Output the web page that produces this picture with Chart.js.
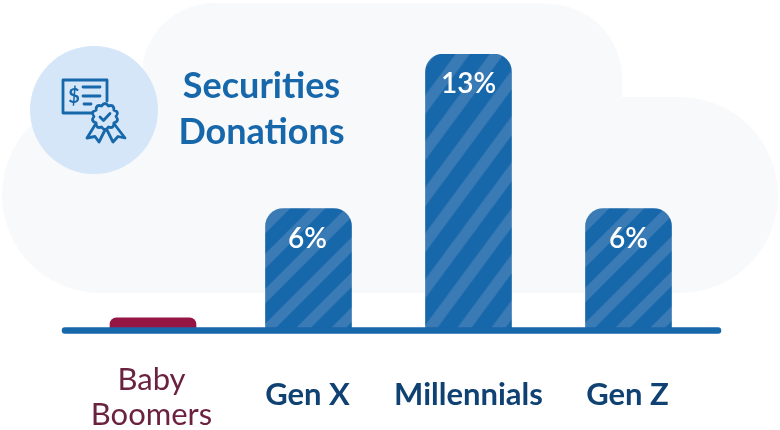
<!DOCTYPE html>
<html>
<head>
<meta charset="utf-8">
<style>
    html, body { margin: 0; padding: 0; background: #fff; }
    #wrap { width: 780px; height: 430px; }
</style>
<script src="https://cdn.jsdelivr.net/npm/chart.js@4/dist/chart.umd.min.js"></script>
</head>
<body>
<div id="wrap"><canvas id="donations"></canvas></div>
<script>
// Chart data
const generations = [["Baby", "Boomers"], "Gen X", "Millennials", "Gen Z"];
const securitiesShare = [0.62, 5.75, 13, 5.75];
const valueLabels = ["", "6%", "13%", "6%"];
const titleLines = ["Securities", "Donations"];

const BLUE = "#1767ab";
const STRIPE = "#3a7bb5";

// Diagonal stripes for the bars
function stripes(w, h, dx) {
    const tile = document.createElement("canvas");
    tile.width = w;
    tile.height = h;
    const c = tile.getContext("2d");
    c.fillStyle = BLUE;
    c.fillRect(0, 0, w, h);
    c.fillStyle = STRIPE;
    const band = w * 0.42;
    [-w, 0, w].forEach((o) => {
        c.beginPath();
        c.moveTo(o, h);
        c.lineTo(o + w, 0);
        c.lineTo(o + w + band, 0);
        c.lineTo(o + band, h);
        c.closePath();
        c.fill();
    });
    const pattern = c.createPattern(tile, "repeat");
    pattern.setTransform(new DOMMatrix().translate(dx, 0));
    return pattern;
}

function drawCloud(ctx) {
    ctx.fillStyle = "#f8f9fb";
    ctx.beginPath();
    ctx.arc(100, 195, 98, 0, Math.PI * 2);
    ctx.arc(680, 195, 98, 0, Math.PI * 2);
    ctx.fill();
    ctx.beginPath();
    ctx.arc(214, 75, 72, 0, Math.PI * 2);
    ctx.arc(548, 78, 74, 0, Math.PI * 2);
    ctx.fill();
    ctx.fillRect(100, 97, 580, 196);
    ctx.fillRect(214, 3.5, 334, 100);
    ctx.fillRect(142, 75, 480, 30);
}

function poly(ctx, pts, close) {
    ctx.beginPath();
    pts.forEach((p, i) => (i ? ctx.lineTo(p[0], p[1]) : ctx.moveTo(p[0], p[1])));
    if (close) ctx.closePath();
    ctx.stroke();
}

function drawIcon(ctx) {
    ctx.fillStyle = "#d4e6f7";
    ctx.beginPath();
    ctx.arc(94, 110, 64, 0, Math.PI * 2);
    ctx.fill();

    ctx.strokeStyle = BLUE;
    ctx.lineWidth = 2.8;
    ctx.lineJoin = "round";
    ctx.lineCap = "round";
    // certificate
    poly(ctx, [[92, 113], [63, 113], [63, 80], [107, 80], [107, 101]]);
    poly(ctx, [[83, 87], [100, 87]]);
    poly(ctx, [[83, 96], [100, 96]]);
    poly(ctx, [[84, 104], [91, 104]]);
    ctx.fillStyle = BLUE;
    ctx.font = "700 20px Lato";
    ctx.textAlign = "center";
    ctx.textBaseline = "middle";
    ctx.fillText("$", 74, 97);

    // ribbons
    poly(ctx, [[95, 125], [87, 138], [95, 136.5], [99, 142], [105, 130]]);
    poly(ctx, [[115, 125], [125, 138], [118, 136.5], [113, 142], [107, 130]]);

    // rosette
    const cx = 105, cy = 116.5, points = 10;
    ctx.beginPath();
    for (let i = 0; i < points; i++) {
        const a0 = (i / points) * Math.PI * 2;
        const a1 = ((i + 0.5) / points) * Math.PI * 2;
        const a2 = ((i + 1) / points) * Math.PI * 2;
        const x0 = cx + 11 * Math.cos(a0), y0 = cy + 11 * Math.sin(a0);
        if (i === 0) ctx.moveTo(x0, y0);
        ctx.quadraticCurveTo(cx + 15.5 * Math.cos(a1), cy + 15.5 * Math.sin(a1), cx + 11 * Math.cos(a2), cy + 11 * Math.sin(a2));
    }
    ctx.closePath();
    ctx.fillStyle = "#d4e6f7";
    ctx.fill();
    ctx.stroke();
    poly(ctx, [[100, 117], [103.5, 120.5], [110, 113.5]]);
}

// Background art goes under the bars, title next to the icon
const artwork = {
    id: "artwork",
    // the original artwork has hand placed labels, shift them after layout
    afterLayout(chart) {
        const items = chart.scales.x.getLabelItems();
        items[0].options.translation[0] += 3;
        items[0].options.translation[1] += 3.5;
        items[1].options.translation[1] += 19;
        items[1].options.translation[0] -= 1;
        items[2].options.translation[1] += 19;
        items[3].options.translation[1] += 19;
        items[3].options.translation[0] -= 1;
    },
    afterDatasetsUpdate(chart) {
        chart.getDatasetMeta(0).data[0].x += 4.5;
    },
    beforeDraw(chart) {
        const ctx = chart.ctx;
        ctx.save();
        drawCloud(ctx);
        drawIcon(ctx);
        ctx.fillStyle = BLUE;
        ctx.font = "700 36px Lato";
        ctx.textAlign = "center";
        ctx.textBaseline = "alphabetic";
        ctx.fillText(titleLines[0], 261.5, 98);
        ctx.fillText(titleLines[1], 261.5, 144);
        ctx.restore();
    },
    afterDatasetsDraw(chart) {
        const ctx = chart.ctx;
        const { bottom } = chart.chartArea;
        ctx.save();
        // axis line with round ends
        ctx.strokeStyle = BLUE;
        ctx.lineWidth = 6.5;
        ctx.lineCap = "round";
        ctx.beginPath();
        ctx.moveTo(65, bottom - 0.5);
        ctx.lineTo(718, bottom - 0.5);
        ctx.stroke();
        // value labels
        ctx.fillStyle = "#fff";
        ctx.font = "600 28px Lato";
        ctx.textAlign = "center";
        ctx.textBaseline = "middle";
        chart.getDatasetMeta(0).data.forEach((bar, i) => {
            ctx.fillText(valueLabels[i], bar.x - (i === 1 ? 1 : 0), bar.y + 30);
        });
        ctx.restore();
    },
};

new Chart(document.getElementById("donations"), {
    type: "bar",
    data: {
        labels: generations,
        datasets: [{
            data: securitiesShare,
            backgroundColor: ["#951644", stripes(35, 35, 29), stripes(34, 46, 19.5), stripes(35, 35, 33)],
            borderWidth: 0,
            barThickness: 86,
            borderRadius: { topLeft: 18, topRight: 18, bottomLeft: 0, bottomRight: 0 },
            borderSkipped: false,
        }],
    },
    options: {
        responsive: true,
        maintainAspectRatio: false,
        animation: false,
        layout: { padding: { left: 68.5, right: 71.5, top: 54, bottom: 0 } },
        plugins: { legend: { display: false }, tooltip: { enabled: false } },
        scales: {
            x: {
                grid: { display: false },
                border: { display: false },
                afterFit: (scale) => { scale.height = 99; },
                ticks: {
                    padding: 20,
                    maxRotation: 0,
                    autoSkip: false,
                    color: (c) => (c.index === 0 ? "#6b2240" : "#0f4272"),
                    font: (c) => ({
                        family: "Lato",
                        size: 31,
                        weight: c.index === 0 ? "400" : "700",
                        lineHeight: 1.12,
                    }),
                },
            },
            y: { display: false, min: 0, max: 13 },
        },
    },
    plugins: [artwork],
});
</script>
</body>
</html>
